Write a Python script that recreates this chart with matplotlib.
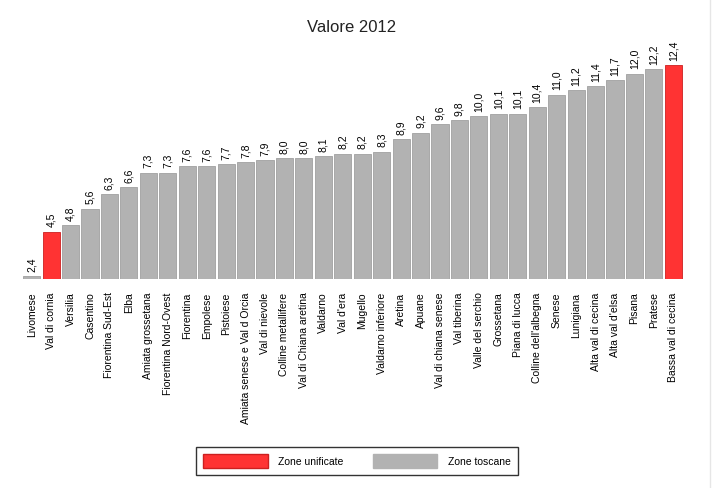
import matplotlib
matplotlib.use("Agg")
from matplotlib import pyplot as plt
from matplotlib.patches import Patch
from matplotlib.lines import Line2D

plt.rcParams['font.family'] = ['Liberation Sans', 'DejaVu Sans']

zone = ["Livomese", "Val di cornia", "Versilia", "Casentino", "Fiorentina Sud-Est",
        "Elba", "Amiata grossetana", "Fiorentina Nord-Ovest", "Fiorentina", "Empolese",
        "Pistoiese", "Amiata senese e Val d Orcia", "Val di nievole", "Colline metallifere",
        "Val di Chiana aretina", "Valdarno", "Val d'era", "Mugello", "Valdarno inferiore",
        "Aretina", "Apuane", "Val di chiana senese", "Val tiberina", "Valle del serchio",
        "Grossetana", "Piana di lucca", "Colline dell'albegna", "Senese", "Lunigiana",
        "Alta val di cecina", "Alta val d'elsa", "Pisana", "Pratese", "Bassa val di cecina"]
valori = [2.4, 4.5, 4.8, 5.6, 6.3, 6.6, 7.3, 7.3, 7.6, 7.6, 7.7, 7.8, 7.9, 8.0, 8.0,
          8.1, 8.2, 8.2, 8.3, 8.9, 9.2, 9.6, 9.8, 10.0, 10.1, 10.1, 10.4, 11.0, 11.2,
          11.4, 11.7, 12.0, 12.2, 12.4]
unificate = ["Val di cornia", "Bassa val di cecina"]

rosso = "#ff3333"
grigio = "#b2b2b2"

fig = plt.figure(figsize=(7.21, 4.89), dpi=100)
n = len(zone)
# axes placed so bars line up with the reference
ax = fig.add_axes([22 / 721, 1 - 280 / 489, 661 / 721, 237 / 489])

x = list(range(n))
colori = [rosso if z in unificate else grigio for z in zone]
bordi = ["#cc2020" if z in unificate else "#a0a0a0" for z in zone]
ax.bar(x, [v - 2.26 for v in valori], 0.88, bottom=2.26, color=colori,
       edgecolor=bordi, linewidth=0.6)

for i, v in enumerate(valori):
    ax.text(i, v + 0.25, ("%.1f" % v).replace(".", ","), rotation=90,
            ha="center", va="bottom", fontsize=7.5)

ax.set_xlim(-0.5, n - 0.5)
ax.set_ylim(2.26, 13.5)
ax.set_xticks(x)
ax.set_xticklabels(zone, rotation=90, fontsize=7.5, va="top")
ax.tick_params(axis="x", length=0, pad=9)
ax.set_yticks([])
for s in ax.spines.values():
    s.set_visible(False)

fig.text(352 / 721, 1 - 28 / 489, "Valore 2012", ha="center", va="center",
         fontsize=12, color="#222222")

handles = [Patch(facecolor=rosso, edgecolor="#cc2020", label="Zone unificate"),
           Patch(facecolor=grigio, edgecolor=grigio, label="Zone toscane")]
leg = fig.legend(handles=handles, loc="center", bbox_to_anchor=(357 / 721, 1 - 462 / 489),
                 ncol=2, fontsize=7.5, frameon=True, fancybox=False,
                 handlelength=6.2, handleheight=1.6, handletextpad=1.0,
                 columnspacing=2.8, borderpad=0.7, borderaxespad=0)
leg.get_frame().set_edgecolor("black")
leg.get_frame().set_linewidth(1.0)

fig.add_artist(Line2D([710 / 721, 710 / 721], [0, 1], color="#e6e6e6", linewidth=1))

fig.savefig("out.png", dpi=100)
